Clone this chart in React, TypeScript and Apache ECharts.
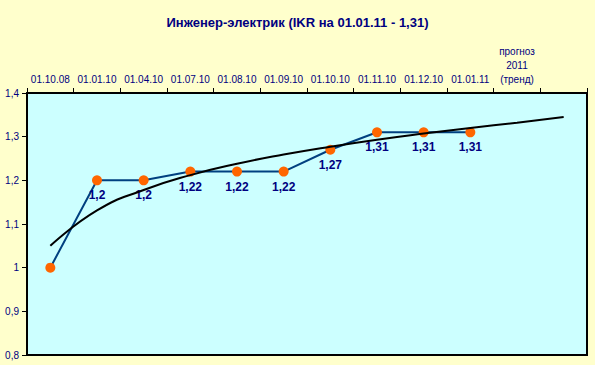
import React, { useEffect, useRef } from "react";
import * as echarts from "echarts";

const categories = [
  "01.10.08", "01.01.10", "01.04.10", "01.07.10", "01.08.10", "01.09.10",
  "01.10.10", "01.11.10", "01.12.10", "01.01.11", "прогноз\n2011\n(тренд)", "",
];
const values = [1, 1.2, 1.2, 1.22, 1.22, 1.22, 1.27, 1.31, 1.31, 1.31];
const trend = [1.05, 1.131, 1.178, 1.212, 1.238, 1.259, 1.277, 1.293, 1.307, 1.32, 1.332, 1.345];
const yTicks = { min: 0.8, max: 1.4, interval: 0.1 };
const title = "Инженер-электрик (IKR на 01.01.11 - 1,31)";

const fmt = (v: number) => String(Math.round(v * 100) / 100).replace(".", ",");

export default function App() {
  const ref = useRef<HTMLDivElement>(null);
  useEffect(() => {
    const chart = echarts.init(ref.current!, null, { renderer: "svg" });
    chart.setOption({
      animation: false,
      backgroundColor: "#FFFFCC",
      textStyle: { fontFamily: "Liberation Sans, Arial, sans-serif" },
      title: {
        text: title,
        left: "center",
        top: 11,
        textStyle: { fontSize: 13, fontWeight: "bold", color: "#000080", fontFamily: "Liberation Sans, Arial, sans-serif" },
      },
      grid: {
        left: 27, right: 8, top: 93, bottom: 10,
        show: true, backgroundColor: "#CCFFFF", borderColor: "#000", borderWidth: 2,
      },
      xAxis: {
        type: "category",
        position: "top",
        data: categories,
        boundaryGap: true,
        axisLine: { lineStyle: { color: "#000", width: 2 } },
        axisTick: { show: true, inside: false, length: 5, lineStyle: { color: "#000" } },
        axisLabel: { color: "#000080", fontSize: 10, margin: 7, interval: 0, lineHeight: 14 },
        splitLine: { show: false },
      },
      yAxis: {
        type: "value",
        min: yTicks.min,
        max: yTicks.max,
        interval: yTicks.interval,
        axisLine: { show: true, lineStyle: { color: "#000", width: 2 } },
        axisTick: { show: true, length: 5, lineStyle: { color: "#000" } },
        axisLabel: { color: "#000080", fontSize: 10, margin: 8, formatter: (v: number) => fmt(v) },
        splitLine: { show: false },
      },
      series: [
        {
          type: "line",
          data: values,
          symbol: "circle",
          symbolSize: 10,
          lineStyle: { color: "#004080", width: 2 },
          itemStyle: { color: "#FF6600" },
          label: {
            show: true,
            position: "bottom",
            distance: 4,
            color: "#000080",
            fontWeight: "bold",
            fontSize: 12,
            formatter: (p: any) => (p.dataIndex === 0 ? "" : fmt(p.value)),
          },
          z: 3,
        },
        {
          type: "line",
          data: trend,
          smooth: true,
          symbol: "none",
          lineStyle: { color: "#000", width: 2 },
          z: 4,
        },
      ],
    });
    return () => chart.dispose();
  }, []);
  return <div ref={ref} style={{ width: 595, height: 365, position: "absolute", left: 0, top: 0 }} />;
}
